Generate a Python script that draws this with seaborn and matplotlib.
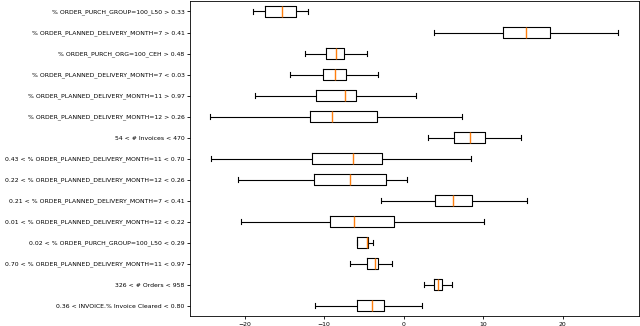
"""Horizontal box plots of effect per segment."""

import matplotlib

matplotlib.use("Agg")
import matplotlib.pyplot as plt
import numpy as np
import pandas as pd
import seaborn as sns

labels = [
    "% ORDER_PURCH_GROUP=100_L50 > 0.33",
    "% ORDER_PLANNED_DELIVERY_MONTH=7 > 0.41",
    "% ORDER_PURCH_ORG=100_CEH > 0.48",
    "% ORDER_PLANNED_DELIVERY_MONTH=7 < 0.03",
    "% ORDER_PLANNED_DELIVERY_MONTH=11 > 0.97",
    "% ORDER_PLANNED_DELIVERY_MONTH=12 > 0.26",
    "54 < # Invoices < 470",
    "0.43 < % ORDER_PLANNED_DELIVERY_MONTH=11 < 0.70",
    "0.22 < % ORDER_PLANNED_DELIVERY_MONTH=12 < 0.26",
    "0.21 < % ORDER_PLANNED_DELIVERY_MONTH=7 < 0.41",
    "0.01 < % ORDER_PLANNED_DELIVERY_MONTH=12 < 0.22",
    "0.02 < % ORDER_PURCH_GROUP=100_L50 < 0.29",
    "0.70 < % ORDER_PLANNED_DELIVERY_MONTH=11 < 0.97",
    "326 < # Orders < 958",
    "0.36 < INVOICE.% Invoice Cleared < 0.80",
]

# five-number summaries
whisker_low = [-19.0, 3.8, -12.4, -14.3, -18.7, -24.3, 3.0, -24.2, -20.9, -2.8, -20.5, -5.83, -6.7, 2.5, -11.1]
q1 = [-17.5, 12.5, -9.75, -10.1, -11.0, -11.8, 6.3, -11.5, -11.3, 3.9, -9.3, -5.83, -4.6, 3.8, -5.9]
median = [-15.3, 15.4, -8.5, -8.6, -7.4, -9.0, 8.4, -6.4, -6.8, 6.2, -6.2, -4.55, -3.55, 4.3, -4.0]
q3 = [-13.6, 18.4, -7.55, -7.3, -6.0, -3.3, 10.2, -2.75, -2.25, 8.6, -1.25, -4.45, -3.2, 4.8, -2.5]
whisker_high = [-12.0, 27.0, -4.6, -3.2, 1.6, 7.4, 14.7, 8.5, 0.4, 15.5, 10.1, -3.92, -1.5, 6.1, 2.3]


def main() -> None:
    rows = []
    for i, lab in enumerate(labels):
        for v in (whisker_low[i], q1[i], median[i], q3[i], whisker_high[i]):
            rows.append({"segment": lab, "value": v})
    df = pd.DataFrame(rows)

    fig, ax = plt.subplots(figsize=(6.4, 3.26), dpi=100)
    sns.boxplot(
        data=df, x="value", y="segment", order=labels, orient="h",
        whis=np.inf, width=0.5, fill=False, color="black", linewidth=0.8,
        medianprops={"color": "C1", "linewidth": 1.0}, ax=ax,
    )
    ax.set_xlabel("")
    ax.set_ylabel("")
    ax.tick_params(labelsize=4.4, length=2, width=0.6, pad=2)
    for s in ax.spines.values():
        s.set_linewidth(0.6)
    fig.subplots_adjust(left=0.297, right=0.998, top=0.997, bottom=0.03)
    fig.savefig("out.png", dpi=100)
    plt.close(fig)


if __name__ == "__main__":
    main()
